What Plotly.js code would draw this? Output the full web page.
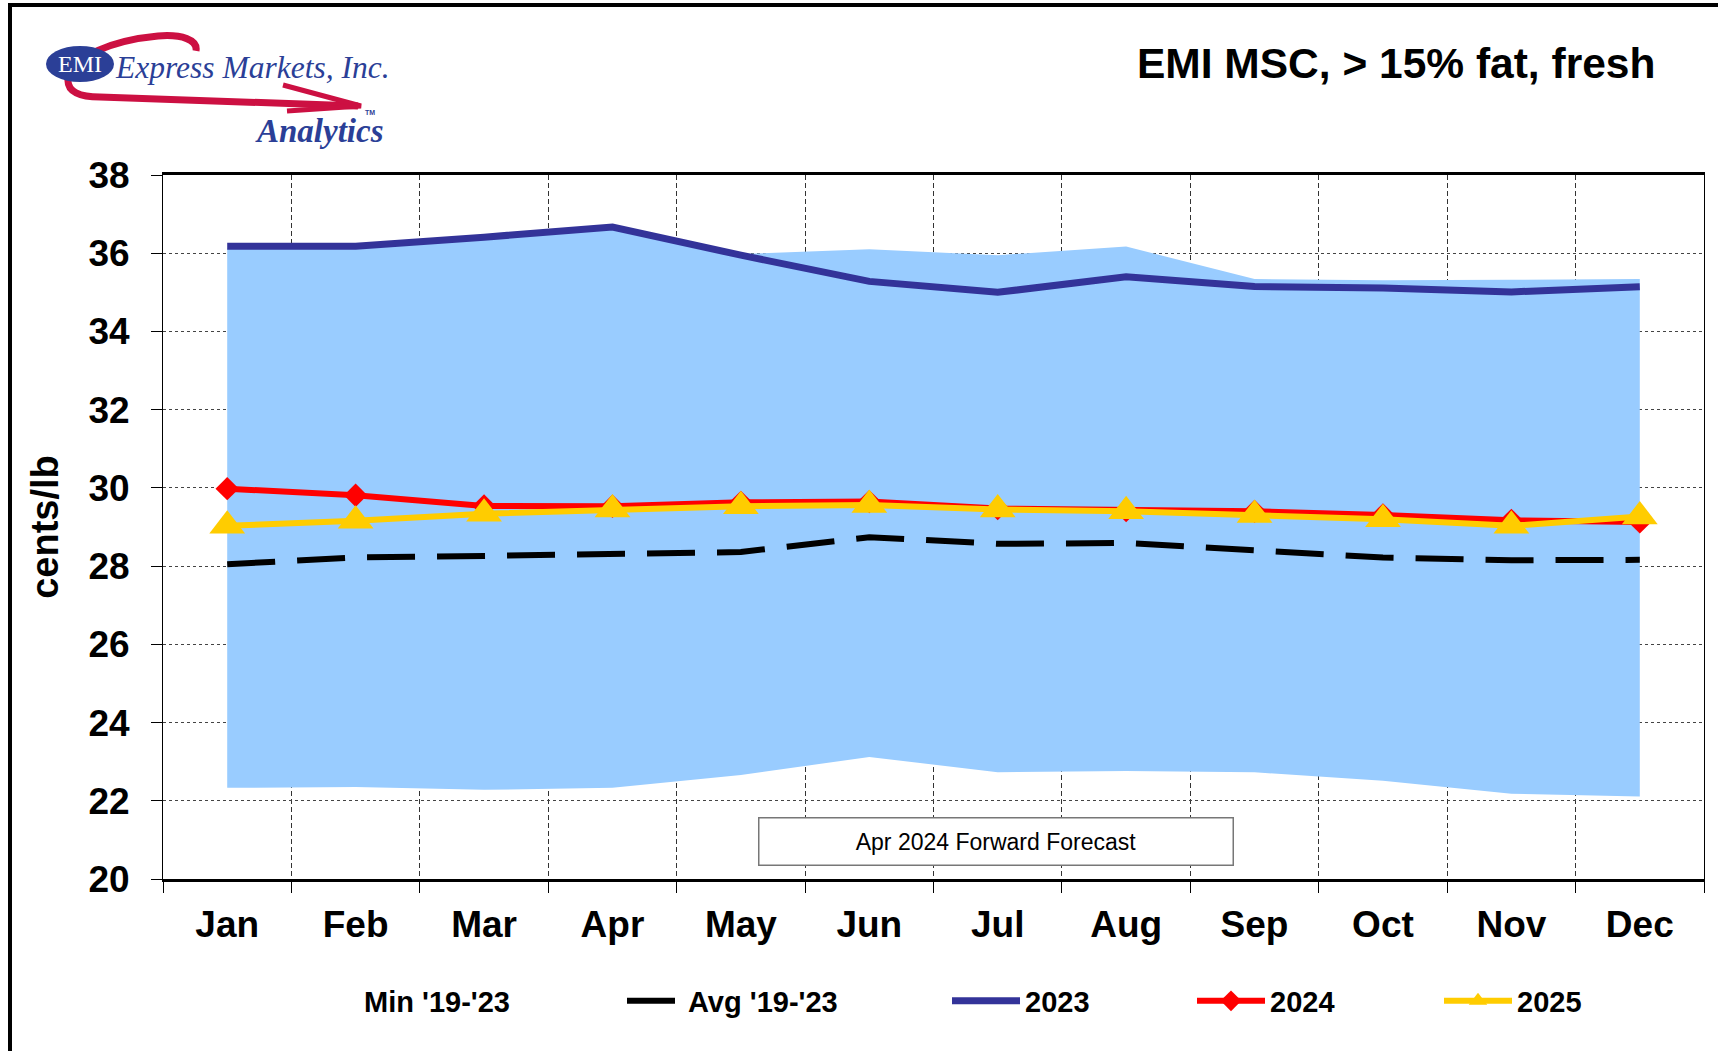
<!DOCTYPE html>
<html><head><meta charset="utf-8">
<script src="https://cdn.plot.ly/plotly-3.0.1.min.js"></script>
<style>html,body{margin:0;padding:0;background:#fff}</style>
</head><body>
<div id="chart" style="width:1718px;height:1051px"></div>
<script>
// ---- data ----
const months = ['Jan','Feb','Mar','Apr','May','Jun','Jul','Aug','Sep','Oct','Nov','Dec'];
const min1923 = [22.33,22.35,22.28,22.33,22.66,23.12,22.73,22.76,22.73,22.51,22.18,22.11];
const max1923 = [36.12,36.12,36.38,36.62,35.98,36.10,35.95,36.17,35.34,35.31,35.32,35.34];
const avg1923 = [28.05,28.22,28.26,28.30,28.36,28.74,28.57,28.59,28.40,28.22,28.15,28.16];
const s2023 = [36.18,36.18,36.41,36.67,35.95,35.28,35.00,35.40,35.15,35.11,35.01,35.14];
const s2024 = [29.98,29.81,29.54,29.53,29.63,29.65,29.47,29.42,29.40,29.31,29.17,29.13];
const s2025 = [29.03,29.16,29.34,29.45,29.53,29.56,29.45,29.40,29.31,29.20,29.03,29.27];
const yTicks = [20,22,24,26,28,30,32,34,36,38];

// ---- geometry helpers (pixel -> paper) ----
const W = 1718, H = 1051;
const PL = 163, PR = 1704, PT = 175, PB = 879;
const X = px => (px - PL) / (PR - PL);
const Y = py => (PB - py) / (PB - PT);
const P = (px, py) => X(px).toFixed(5) + ',' + Y(py).toFixed(5);

const FONT = '"Liberation Sans", Arial, sans-serif';
const SERIF = '"Liberation Serif", "Times New Roman", serif';
const BLUE = '#2B3F97';
const SWOOSH = '#CC1042';

const traces = [
  {x: months, y: min1923, name: "Min '19-'23", type: 'scatter', mode: 'lines',
   line: {width: 0, color: '#99CCFF'}, legend: 'legend', hoverinfo: 'skip'},
  {x: months, y: max1923, name: "Max '19-'23", type: 'scatter', mode: 'lines',
   line: {width: 0, color: '#99CCFF'}, fill: 'tonexty', fillcolor: '#99CCFF',
   showlegend: false, hoverinfo: 'skip'},
  {x: months, y: avg1923, name: "Avg '19-'23", type: 'scatter', mode: 'lines',
   line: {width: 6, color: '#000000', dash: '48px,22px'}, legend: 'legend2'},
  {x: months, y: s2023, name: '2023', type: 'scatter', mode: 'lines',
   line: {width: 7, color: '#333399'}, legend: 'legend3'},
  {x: months, y: s2024, name: '2024', type: 'scatter', mode: 'lines+markers',
   line: {width: 6, color: '#FF0000'},
   marker: {symbol: 'diamond', size: 18, color: '#FF0000'}, legend: 'legend4'},
  {x: months, y: s2025, name: '2025', type: 'scatter', mode: 'lines+markers',
   line: {width: 6, color: '#FFCC00'},
   marker: {symbol: 'triangle-up', size: 31, color: '#FFCC00'}, legend: 'legend5'}
];

function leg(px, iw) {
  return {orientation: 'h', xref: 'paper', yref: 'paper', x: X(px), y: Y(1001),
    xanchor: 'left', yanchor: 'middle', itemwidth: iw || 68, bgcolor: 'rgba(0,0,0,0)',
    borderwidth: 0, font: {family: FONT, size: 29, weight: 'bold', color: '#000'}};
}

const layout = {
  width: W, height: H,
  margin: {l: PL, r: W - PR, t: PT, b: H - PB, pad: 0},
  paper_bgcolor: '#ffffff', plot_bgcolor: '#ffffff',
  font: {family: FONT, color: '#000'},
  showlegend: true,
  legend: leg(286), legend2: leg(622, 56), legend3: leg(947), legend4: leg(1192), legend5: leg(1439),
  xaxis: {
    type: 'category', categoryorder: 'array', categoryarray: months,
    range: [-0.5, 11.5], tickson: 'boundaries',
    showgrid: true, gridcolor: '#333333', gridwidth: 1, griddash: '5px,3px',
    ticks: 'outside', ticklen: 11, tickcolor: '#000', tickwidth: 1,
    showline: true, linecolor: '#000', linewidth: 3, mirror: true,
    tickfont: {family: FONT, size: 37, weight: 'bold', color: '#000'},
    ticklabelstandoff: 11, automargin: false, fixedrange: true
  },
  yaxis: {
    range: [20, 38], tickmode: 'array', tickvals: yTicks, ticktext: yTicks.map(String),
    showgrid: true, gridcolor: '#444444', gridwidth: 1, griddash: 'dot',
    zeroline: false, ticks: 'outside', ticklen: 11, tickcolor: '#000', tickwidth: 1,
    showline: true, linecolor: '#000', linewidth: 1, mirror: true,
    tickfont: {family: FONT, size: 37, weight: 'bold', color: '#000'},
    ticklabelstandoff: 14, automargin: false, fixedrange: true,
    title: {text: 'cents/lb', standoff: 18, font: {family: FONT, size: 38, weight: 'bold', color: '#000'}}
  },
  shapes: [
    // outer frame
    {type: 'rect', xref: 'paper', yref: 'paper', x0: X(10), y0: Y(5), x1: X(1760), y1: Y(1090),
     line: {color: '#000', width: 4}, fillcolor: 'rgba(0,0,0,0)', layer: 'above'},
    // logo swoosh
    {type: 'path', xref: 'paper', yref: 'paper', layer: 'above',
     path: 'M' + P(196,51) + ' C' + P(198,40) + ' ' + P(182,34) + ' ' + P(158,36) +
           ' C' + P(115,40) + ' ' + P(71,56) + ' ' + P(68,79) +
           ' C' + P(67,92) + ' ' + P(80,97) + ' ' + P(100,97) + ' L' + P(358,106),
     line: {color: SWOOSH, width: 7}, fillcolor: 'rgba(0,0,0,0)'},
    {type: 'path', xref: 'paper', yref: 'paper', layer: 'above',
     path: 'M' + P(283,85) + ' L' + P(361,106) + ' L' + P(287,111),
     line: {color: SWOOSH, width: 5}, fillcolor: 'rgba(0,0,0,0)'},
    // logo ellipse
    {type: 'circle', xref: 'paper', yref: 'paper', layer: 'above',
     x0: X(46), x1: X(114), y0: Y(46), y1: Y(82),
     fillcolor: BLUE, line: {width: 0}}
  ],
  annotations: [
    {xref: 'paper', yref: 'paper', x: X(1657), y: Y(64), xanchor: 'right', yanchor: 'middle',
     text: 'EMI MSC, &gt; 15% fat, fresh', showarrow: false,
     font: {family: FONT, size: 42.5, weight: 'bold', color: '#000'}},
    {xref: 'paper', yref: 'paper', x: X(80), y: Y(64), xanchor: 'center', yanchor: 'middle',
     text: 'EMI', showarrow: false, font: {family: SERIF, size: 24, color: '#fff'}},
    {xref: 'paper', yref: 'paper', x: X(113), y: Y(67), xanchor: 'left', yanchor: 'middle',
     text: '<i>Express Markets, Inc.</i>', showarrow: false,
     font: {family: SERIF, size: 31.5, color: BLUE}},
    {xref: 'paper', yref: 'paper', x: X(253), y: Y(131), xanchor: 'left', yanchor: 'middle',
     text: '<b><i>Analytics</i></b>', showarrow: false,
     font: {family: SERIF, size: 33, color: BLUE}},
    {xref: 'paper', yref: 'paper', x: X(370), y: Y(113), xanchor: 'center', yanchor: 'middle',
     text: '<b>TM</b>', showarrow: false, font: {family: FONT, size: 7, color: BLUE}},
    {xref: 'paper', yref: 'paper', x: X(996), y: Y(841), xanchor: 'center', yanchor: 'middle',
     text: 'Apr 2024 Forward Forecast', showarrow: false, width: 473, height: 46,
     bgcolor: '#ffffff', bordercolor: '#777777', borderwidth: 1.5, borderpad: 0,
     font: {family: FONT, size: 23, color: '#000'}}
  ],
  hovermode: false
};

Plotly.newPlot('chart', traces, layout, {displayModeBar: false, staticPlot: true});
</script>
</body></html>
